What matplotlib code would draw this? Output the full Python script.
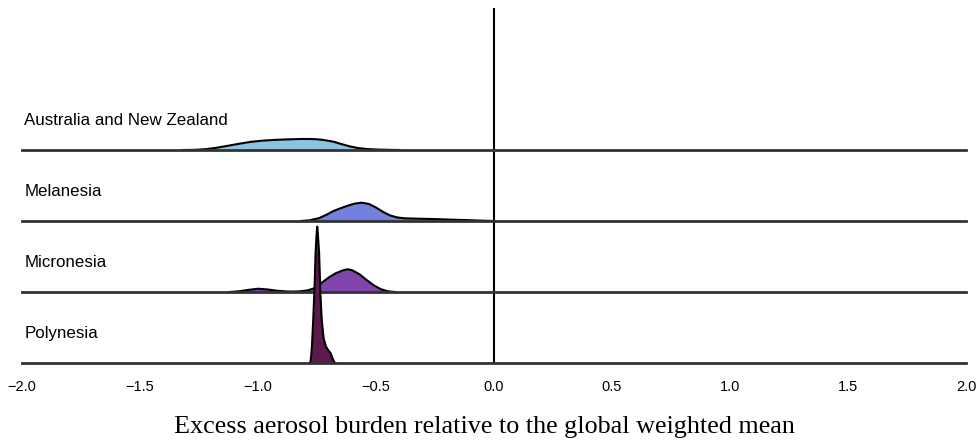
import matplotlib
matplotlib.use("Agg")
import matplotlib.pyplot as plt

# regions, top row first
regions = ["Australia and New Zealand", "Melanesia", "Micronesia", "Polynesia"]
colors = ["#8cc3e3", "#7480dd", "#7f45ac", "#5c1a4c"]

# excess burden (x) and ridge height in row units (y) for each region
anz_x = [-1.32, -1.27, -1.22, -1.175, -1.13, -1.08, -1.03, -0.98, -0.93, -0.87, -0.82, -0.78,
         -0.75, -0.72, -0.68, -0.645, -0.61, -0.575, -0.54, -0.50, -0.45, -0.40]
anz_y = [0.0, 0.002, 0.012, 0.032, 0.058, 0.088, 0.115, 0.132, 0.142, 0.150, 0.155, 0.155,
         0.151, 0.140, 0.117, 0.082, 0.050, 0.027, 0.014, 0.007, 0.003, 0.0]

mel_x = [-0.82, -0.78, -0.74, -0.71, -0.68, -0.65, -0.62, -0.59, -0.56, -0.53, -0.50, -0.47,
         -0.44, -0.41, -0.38, -0.33, -0.26, -0.19, -0.12, -0.06, 0.0]
mel_y = [0.0, 0.010, 0.042, 0.088, 0.141, 0.180, 0.215, 0.245, 0.258, 0.240, 0.190, 0.128,
         0.078, 0.050, 0.038, 0.033, 0.028, 0.020, 0.013, 0.006, 0.0]

mic_x = [-1.12, -1.08, -1.04, -1.00, -0.96, -0.92, -0.88, -0.85, -0.82, -0.79, -0.76, -0.73,
         -0.70, -0.67, -0.64, -0.62, -0.60, -0.57, -0.54, -0.51, -0.48, -0.45, -0.42]
mic_y = [0.0, 0.010, 0.030, 0.046, 0.036, 0.018, 0.008, 0.006, 0.010, 0.022, 0.055, 0.130,
         0.205, 0.265, 0.305, 0.320, 0.305, 0.250, 0.170, 0.095, 0.040, 0.010, 0.0]

pol_x = [-0.781, -0.777, -0.772, -0.766, -0.760, -0.756, -0.752, -0.749, -0.746, -0.741,
         -0.736, -0.730, -0.722, -0.712, -0.700, -0.692, -0.686, -0.681, -0.676, -0.673]
pol_y = [0.0, 0.02, 0.20, 0.606, 1.10, 1.545, 1.80, 1.92, 1.80, 1.545,
         1.00, 0.606, 0.35, 0.230, 0.17, 0.137, 0.08, 0.042, 0.01, 0.0]

curves = [(anz_x, anz_y), (mel_x, mel_y), (mic_x, mic_y), (pol_x, pol_y)]
xticks = [-2.0, -1.5, -1.0, -0.5, 0.0, 0.5, 1.0, 1.5, 2.0]

fig = plt.figure(figsize=(9.77, 4.41), dpi=100)
ax = fig.add_axes([22 / 977, 1 - 363 / 441, 944 / 977, 355 / 441])

n = len(regions)
for i, (name, col, (xs, ys)) in enumerate(zip(regions, colors, curves)):
    base = n - 1 - i
    z = 2 + i * 3
    top = [base + v for v in ys]
    ax.fill_between(xs, base, top, color=col, lw=0, zorder=z)
    ax.plot(xs, top, color="black", lw=1.5, zorder=z + 1, solid_joinstyle="round")
    ax.axhline(base, color="#333333", lw=2, zorder=z + 1, clip_on=False)
    ax.text(-1.99, base + 0.42, name, fontsize=12.2, family="Liberation Sans",
            va="center", ha="left", zorder=20)

ax.axvline(0, color="black", lw=1.5, zorder=1)

ax.set_xlim(-2, 2)
ax.set_ylim(0, 5)
ax.set_yticks([])
ax.set_xticks(xticks)
ax.set_xticklabels([f"{t:.1f}".replace("-", "\u2212") for t in xticks],
                   family=["Liberation Sans", "DejaVu Sans"], fontsize=10.5)
ax.tick_params(axis="x", length=0, pad=12)
for s in ax.spines.values():
    s.set_visible(False)

fig.text(484 / 977, 1 - 433 / 441, "Excess aerosol burden relative to the global weighted mean",
         ha="center", va="baseline", fontsize=18.8, family="Liberation Serif")

fig.savefig("out.png", dpi=100)
